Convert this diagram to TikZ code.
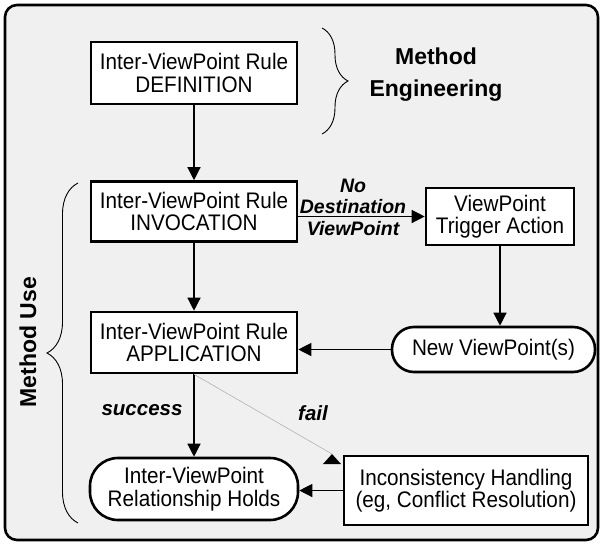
\documentclass[tikz,border=0pt]{standalone}
\usepackage{fontspec}
\setmainfont{Liberation Sans}
\newfontfamily\narrowsans{Liberation Sans}[FakeStretch=0.92]
\usetikzlibrary{arrows.meta,decorations.pathreplacing}
\definecolor{panelgray}{RGB}{240,240,240}

\begin{document}
\begin{tikzpicture}[x=1pt,y=-1pt,>={Triangle[length=13pt,width=13pt]},
		rulebox/.style={draw,line width=2.6pt,fill=white,inner sep=0pt,align=center,font=\narrowsans\fontsize{22.5}{22.5}\selectfont},
		roundbox/.style={rulebox,rounded corners=#1},
		flow/.style={->,line width=1.3pt},
		caption/.style={font=\bfseries\fontsize{23}{32}\selectfont,align=center},
		cond/.style={font=\bfseries\itshape\fontsize{19.5}{21.5}\selectfont,align=center}]
	
		\useasboundingbox (0,0) rectangle (602,544);
		\draw [line width=2.6pt,fill=panelgray,rounded corners=12pt] (5,5) rectangle (598,540);
		
		\node [rulebox,minimum width=206pt,minimum height=62pt] (def) at (194,73) {Inter-ViewPoint Rule\\DEFINITION};
		\node [rulebox,minimum width=206pt,minimum height=60pt] (inv) at (194,211.5) {Inter-ViewPoint Rule\\INVOCATION};
		\node [rulebox,minimum width=206pt,minimum height=61pt] (app) at (194,342.5) {Inter-ViewPoint Rule\\APPLICATION};
		\node [rulebox,minimum width=148pt,minimum height=57pt] (trig) at (500,216.5) {ViewPoint\\Trigger Action};
		\node [roundbox=22pt,minimum width=203pt,minimum height=45pt] (newvp) at (493.5,349.5) {New ViewPoint(s)};
		\node [roundbox=28pt,minimum width=208pt,minimum height=62pt] (holds) at (194,489) {Inter-ViewPoint\\Relationship Holds};
		\node [rulebox,minimum width=244pt,minimum height=69pt] (incons) at (466,490.5) {Inconsistency Handling\\(eg, Conflict Resolution)};
		
		\node [caption] (meng) at (436,75) {Method\\Engineering};
		\node [caption,rotate=90] (muse) at (28,342) {Method Use};
		\node [cond] (nodest) at (353,207) {No\\Destination\\ViewPoint};
		\node [cond,font=\bfseries\itshape\fontsize{20.5}{22}\selectfont,anchor=base] (succ) at (142,415) {success};
		\node [cond,font=\bfseries\itshape\fontsize{20.5}{22}\selectfont,anchor=base] (fail) at (313,420) {fail};
		
		\draw [decorate,decoration={brace,amplitude=26pt},line width=0.9pt] (322,28) -- (322,134);
		\draw [decorate,decoration={brace,amplitude=31pt},line width=0.9pt] (78,523) -- (78,183);
		
		\draw [flow] (def.south) -- (inv.north);
		\draw [flow] (trig.west -| inv.east) -- (trig.west);
		\draw [flow] (inv.south) -- (app.north);
		\draw [flow] (trig.south) -- (trig.south |- newvp.north);
		\draw [flow] (newvp.west) -- (newvp.west -| app.east);
		\draw [flow] (app.south) -- (holds.north);
		\draw [flow] (incons.west) -- (incons.west -| holds.east);
		
		\coordinate (failtip) at (332,454);
		\draw [line width=0.6pt,gray!60] (app.south) -- (failtip);
		\fill (failtip) -- ++(-9,10) -- ++(18,0) -- cycle;
	
	\end{tikzpicture}
\end{document}
